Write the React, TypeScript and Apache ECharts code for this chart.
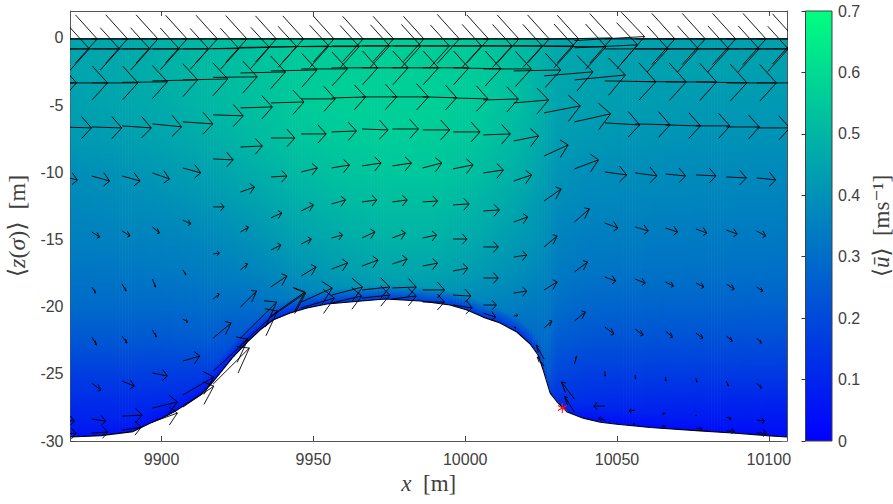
import React, { useEffect, useRef } from "react";
import * as echarts from "echarts";

const X_TICKS = [9900, 9950, 10000, 10050, 10100];
const Y_TICKS = [-30, -25, -20, -15, -10, -5, 0];

const BED_X = [9870, 9880, 9890.6, 9896, 9900, 9904, 9912.7, 9916, 9919.3, 9923.5, 9928.2, 9932.4, 9936.7, 9942.3, 9947.9, 9954.5, 9962, 9973.6, 9985.2, 9995, 10000.6, 10005.9, 10011.5, 10017, 10021.4, 10024, 10025.7, 10027, 10028, 10030.3, 10033.6, 10038.9, 10044.5, 10050, 10061, 10077.4, 10088, 10099.5, 10106];
const BED_Z = [-29.7, -29.6, -29.3, -28.7, -28.3, -27.85, -26.58, -25.84, -24.94, -23.75, -22.64, -21.74, -21, -20.48, -20.1, -19.8, -19.66, -19.43, -19.58, -19.88, -20.25, -20.78, -21.22, -21.89, -22.78, -23.6, -24.72, -25.69, -26.44, -27.1, -27.85, -28.3, -28.6, -28.75, -29, -29.25, -29.4, -29.6, -29.7];

const STAR = [[10032, -27.55]];

const FIELD_Z = [0, -2.5, -5, -7.5, -10, -12.5, -15, -17.5, -20, -22.5, -25, -27.5, -30];
const FIELD_X = [9870, 9885, 9900, 9915, 9930, 9945, 9960, 9975, 9990, 10005, 10018, 10024, 10027, 10030, 10040, 10055, 10080, 10106];
const U_9870 = [0.45, 0.45, 0.44, 0.42, 0.39, 0.37, 0.35, 0.32, 0.29, 0.24, 0.17, 0.11, 0.06];
const U_9885 = [0.46, 0.46, 0.45, 0.43, 0.40, 0.38, 0.355, 0.325, 0.29, 0.24, 0.17, 0.11, 0.06];
const U_9900 = [0.48, 0.48, 0.47, 0.45, 0.42, 0.39, 0.36, 0.33, 0.29, 0.24, 0.17, 0.10, 0.05];
const U_9915 = [0.51, 0.51, 0.50, 0.475, 0.44, 0.41, 0.37, 0.34, 0.30, 0.25, 0.16, 0.10, 0.05];
const U_9930 = [0.53, 0.53, 0.525, 0.51, 0.475, 0.44, 0.40, 0.36, 0.30, 0.22, 0.15, 0.10, 0.05];
const U_9945 = [0.55, 0.555, 0.555, 0.54, 0.51, 0.475, 0.44, 0.395, 0.33, 0.22, 0.15, 0.10, 0.05];
const U_9960 = [0.56, 0.565, 0.57, 0.555, 0.535, 0.505, 0.47, 0.43, 0.36, 0.22, 0.15, 0.10, 0.05];
const U_9975 = [0.565, 0.57, 0.57, 0.565, 0.545, 0.52, 0.49, 0.45, 0.38, 0.22, 0.15, 0.10, 0.05];
const U_9990 = [0.56, 0.565, 0.57, 0.56, 0.545, 0.52, 0.49, 0.45, 0.38, 0.22, 0.15, 0.10, 0.05];
const U_10005 = [0.545, 0.555, 0.555, 0.54, 0.52, 0.49, 0.46, 0.42, 0.36, 0.30, 0.15, 0.10, 0.05];
const U_10018 = [0.51, 0.52, 0.52, 0.50, 0.48, 0.45, 0.42, 0.39, 0.34, 0.28, 0.20, 0.10, 0.05];
const U_10024 = [0.49, 0.49, 0.485, 0.47, 0.45, 0.42, 0.40, 0.37, 0.33, 0.29, 0.22, 0.12, 0.05];
const U_10027 = [0.475, 0.475, 0.47, 0.455, 0.43, 0.41, 0.385, 0.36, 0.33, 0.30, 0.25, 0.13, 0.06];
const U_10030 = [0.46, 0.46, 0.45, 0.43, 0.41, 0.385, 0.36, 0.335, 0.30, 0.25, 0.19, 0.12, 0.06];
const U_10040 = [0.45, 0.45, 0.44, 0.42, 0.39, 0.37, 0.345, 0.32, 0.28, 0.23, 0.17, 0.11, 0.05];
const U_10055 = [0.44, 0.44, 0.43, 0.41, 0.385, 0.365, 0.34, 0.315, 0.275, 0.225, 0.165, 0.10, 0.04];
const U_10080 = [0.44, 0.44, 0.42, 0.40, 0.38, 0.36, 0.335, 0.31, 0.27, 0.22, 0.16, 0.09, 0.04];
const U_10106 = [0.44, 0.44, 0.42, 0.40, 0.375, 0.355, 0.33, 0.305, 0.265, 0.215, 0.155, 0.085, 0.03];
const FIELD = [U_9870, U_9885, U_9900, U_9915, U_9930, U_9945, U_9960, U_9975, U_9990, U_10005, U_10018, U_10024, U_10027, U_10030, U_10040, U_10055, U_10080, U_10106];
const BED_U = [0.05, 0.05, 0.04, 0.05, 0.08, 0.12, 0.14, 0.15, 0.15, 0.14, 0.13, 0.14, 0.18, 0.12, 0.04, 0.03, 0.03, 0.03];

const QUIVER_X = [9857, 9867, 9877, 9887, 9897, 9907, 9917, 9926, 9936, 9946, 9956, 9966, 9976, 9986, 9996, 10006, 10016, 10026, 10036, 10046, 10056, 10066, 10076, 10086, 10096];

const R0_Z = [-0.08, -0.08, -0.08, -0.08, -0.08, -0.08, -0.08, -0.08, -0.08, -0.08, -0.08, -0.08, -0.08, -0.08, -0.08, -0.08, -0.08, -0.1, -0.2, -0.08, -0.08, -0.08, -0.08, -0.08, -0.08];
const R0_U = [21.8, 21.8, 21.8, 21.4, 21.4, 21.1, 20.8, 20.8, 20.8, 20.4, 20.4, 20.4, 22.1, 21.7, 21.7, 21.7, 21.4, 22.4, 23.1, 23.1, 23.1, 23.1, 23.1, 22.7, 22.7];
const R0_V = [0, 0, 0, 0, 0, 0, 0, 0, 0, 0, 0, 0, 0, 0, 0, 0, 0, 0.1, 0.3, 0, 0, 0, 0, 0, 0];

const R1_Z = [-0.82, -0.82, -0.82, -0.82, -0.82, -0.82, -0.8, -0.71, -0.68, -0.65, -0.6, -0.6, -0.6, -0.6, -0.6, -0.6, -0.6, -0.63, -0.74, -0.82, -0.82, -0.82, -0.82, -0.82, -0.82];
const R1_U = [19.2, 19.1, 19.1, 18.8, 18.5, 18.5, 18.5, 18.5, 19.1, 19.1, 19.1, 19.4, 18.8, 19.4, 19.4, 19.4, 19.8, 20.4, 20.8, 20.8, 20.8, 20.8, 20.8, 20.4, 20.4];
const R1_V = [0, 0, 0, 0, 0, 0.02, 0.09, 0.06, 0.07, 0, 0, 0, 0, 0, 0, 0, 0, -0.04, 0.22, 0, 0, 0, 0, 0, 0];

const R2_Z = [-3.35, -3.35, -3.35, -3.31, -3.2, -3.13, -2.94, -2.61, -2.46, -2.31, -2.23, -2.23, -2.23, -2.23, -2.23, -2.31, -2.46, -2.83, -3.13, -3.2, -3.24, -3.28, -3.28, -3.35, -3.35];
const R2_U = [15, 15.2, 15.2, 14.9, 14.9, 14.8, 14.5, 14.8, 15.2, 15.2, 15.2, 15.2, 15.2, 15.2, 15.8, 15.8, 15.5, 16.1, 16.8, 16.8, 16.8, 16.8, 16.8, 16.5, 16.5];
const R2_V = [0, 0, 0, 0.04, 0.07, 0.07, 0.04, 0.07, 0.07, 0, 0, 0, 0, 0, -0.07, 0, 0.07, 0.3, 0.37, -0.07, -0.04, 0, -0.07, 0, 0];

const R3_Z = [-6.63, -6.63, -6.63, -6.55, -6.4, -6.25, -5.73, -5.21, -4.84, -4.54, -4.47, -4.39, -4.39, -4.39, -4.47, -4.62, -4.84, -5.58, -6.25, -6.33, -6.4, -6.48, -6.55, -6.63, -6.7];
const R3_U = [10, 9.9, 9.9, 9.6, 9.6, 9.9, 9.9, 10.5, 10.9, 11.2, 11.2, 11.5, 11.9, 11.2, 11.5, 11.5, 11.5, 11.9, 11.9, 11.5, 11.5, 11.5, 11.2, 10.9, 10.9];
const R3_V = [0, -0.07, -0.07, -0.15, -0.22, -0.15, -0.07, 0.07, 0.07, 0, 0.07, 0, 0, -0.07, -0.07, 0.07, 0.22, 0.52, 0.6, -0.15, -0.07, -0.07, 0, 0, 0];

const R4_Z = [-10.28, -10.28, -10.28, -10.05, -9.68, -9.01, -8.12, -7.45, -7.15, -7, -6.78, -6.78, -6.85, -7, -7.22, -7.67, -8.79, -9.75, -9.98, -10.05, -10.13, -10.2, -10.35, -10.42];
const R4_U = [5.3, 5.9, 5.9, 5.6, 5.9, 6.6, 7.2, 7.9, 8.2, 8.2, 8.6, 8.6, 8.9, 8.9, 8.9, 8.2, 7.9, 7.9, 7.2, 7.2, 6.6, 6.6, 6.6, 6.3];
const R4_V = [-0.3, -0.37, -0.37, -0.45, -0.37, -0.07, 0.07, 0, 0, 0.07, -0.07, 0, 0, 0, 0.07, 0.37, 0.82, 0.67, -0.22, -0.22, -0.15, -0.07, -0.07, -0.15];

const R5_Z = [-14.37, -14.45, -14.37, -14.07, -13.55, -12.58, -11.47, -10.35, -9.98, -9.68, -9.53, -9.53, -9.68, -9.75, -10.05, -10.65, -12.14, -13.7, -13.78, -14.07, -14.15, -14.22, -14.3, -14.37];
const R5_U = [2.6, 2.6, 2.6, 2.3, 2.6, 3.6, 4.6, 5.3, 5.3, 5.9, 6.3, 6.3, 6.3, 6.6, 6.6, 5.9, 5.6, 4.9, 4.3, 4.3, 4, 3.6, 3.6, 3];
const R5_V = [-0.37, -0.37, -0.37, -0.45, -0.3, 0, 0.37, 0.07, 0.3, 0.22, 0.22, 0.22, 0.37, 0.3, 0.22, 0.45, 0.89, 0.97, -0.37, -0.3, -0.3, -0.3, -0.3, -0.37];

const R6_Z = [-18.39, -18.54, -18.32, -17.95, -17.27, -16.08, -14.45, -13.4, -12.88, -12.36, -12.21, -12.21, -12.21, -12.43, -12.88, -13.7, -15.56, -17.42, -17.8, -17.95, -18.17, -18.24, -18.32, -18.54];
const R6_U = [1, 1.3, 1.3, 1, 1, 2, 2.6, 3.6, 4, 4.6, 4.9, 4.9, 4.9, 5.3, 5.3, 4.6, 4.3, 4.3, 3.6, 3.3, 2.6, 2.6, 2.6, 2];
const R6_V = [-0.45, -0.45, -0.52, -0.6, -0.37, 0.07, 0.37, 0.37, 0.45, 0.3, 0.15, 0.15, 0.07, 0.07, 0.07, 0.37, 0.82, 0.74, -0.3, -0.3, -0.3, -0.3, -0.37, -0.3];

const R7_Z = [-22.34, -22.26, -22.19, -21.74, -20.92, -19.43, -17.27, -15.79, -15.34, -14.89, -14.89, -14.89, -14.89, -14.97, -15.56, -16.31, -18.76, -21.07, -21.52, -21.67, -21.82, -21.97, -22.19, -22.34];
const R7_U = [1.3, 1.6, 1.6, 1.3, 1.6, 2, 2.3, 3.3, 3.3, 3.6, 4.3, 4.3, 4.6, 4.6, 4.9, 4.3, 4.3, 3.6, 3, 2.6, 2.3, 2.3, 2, 1.6];
const R7_V = [-0.6, -0.6, -0.52, -0.52, -0.22, 0.37, 0.45, 0.37, 0.37, 0.22, 0.45, 0.37, 0.22, 0, 0, 0.15, 0.6, 0.67, -0.52, -0.45, -0.45, -0.37, -0.37, -0.37];

const R8_Z = [-25.69, -25.69, -25.54, -24.94, -24.05, -22.34, -20.03, -18.54, -17.72, -17.2, -16.98, -16.83, -16.98, -17.35, -17.87, -18.99, -21.59, -24.27, -24.8, -25.09, -25.24, -25.32, -25.54, -25.69];
const R8_U = [2.3, 3, 4, 4.9, 5.6, 5.9, 5.3, 5.3, 4.9, 5.3, 5.3, 4.9, 4.9, 4.9, 4.9, 4.3, 2.6, 0.7, 0.1, 0.1, 0.1, 0.3, 0.7, 1.6];
const R8_V = [-0.45, -0.52, -0.37, -0.22, 0.37, 1.12, 1.19, 0.82, 0.67, 0.45, 0.45, 0.37, 0.22, 0.22, 0, 0.15, 0.52, 0.6, -0.37, -0.3, -0.3, -0.3, -0.37, -0.37];

const R9_Z = [-28.44, -28.37, -28.15, -27.55, -26.58, -24.8, -22.34, -20.7, -19.66, -19.14, -18.76, -18.61, -18.76, -19.14, -19.88, -20.7, -23.9, -26.88, -27.4, -27.7, -27.92, -28.07, -28.22, -28.44];
const R9_U = [4.3, 4.6, 6.6, 8.2, 10.2, 11.5, 11.9, 11.2, 10.2, 10.2, 9.2, 7.9, 7.2, 5.9, 4.3, 1.3, -2.6, -4.3, -3.6, -2, -1, 0.1, 1.6, 2.6];
const R9_V = [-0.07, -0.15, 0.07, 0.45, 1.34, 2.38, 2.68, 1.79, 1.04, 0.6, 0.22, 0.07, 0, -0.07, 0, 0.07, 1.04, 1.27, 0, -0.07, -0.07, -0.07, -0.15, -0.07];

const R10_Z = [-29.49, -29.41, -29.19, -28.59, -27.48, -25.76, -22.86, -20.77, -20.1, -19.73, -19.36, -19.43, -19.66, -19.88, -20.48, -21.52, -24.42, -27.85, -28.44, -28.74, -28.89, -29.04, -29.26, -29.41];
const R10_U = [4.9, 5.3, 6.3, 8.2, 10.2, 11.9, 12.2, 11.5, 10.9, 9.9, 9.2, 7.9, 7.2, 6.3, 4, 0.7, -2.3, -3.3, -2, -0.7, -1, 2, 2.6, 3.3];
const R10_V = [0.07, 0.07, 0.22, 0.67, 1.56, 2.68, 2.53, 1.79, 0.74, 0.52, 0.22, 0.22, 0, -0.22, -0.3, -0.07, 0.67, 1.19, 0.15, 0, 0, -0.07, 0, 0];

const ROWS = [
  [R0_Z, R0_U, R0_V], [R1_Z, R1_U, R1_V], [R2_Z, R2_U, R2_V], [R3_Z, R3_U, R3_V],
  [R4_Z, R4_U, R4_V], [R5_Z, R5_U, R5_V], [R6_Z, R6_U, R6_V], [R7_Z, R7_U, R7_V],
  [R8_Z, R8_U, R8_V], [R9_Z, R9_U, R9_V], [R10_Z, R10_U, R10_V],
];

const UMAX = 0.7;
const BAND = 1.1;
const ALPHA = 0.33;
const BETA = 0.25;
const TEXT = "#404040";
const SANS = "'Liberation Sans', Arial, sans-serif";
const SERIF = "'Liberation Serif', 'DejaVu Serif', serif";

function winter(v: number) {
  const t = Math.max(0, Math.min(1, v / UMAX));
  return `rgb(0,${Math.round(255 * t)},${Math.round(255 - 127 * t)})`;
}

function bedAt(x: number) {
  for (let i = 0; i < BED_X.length - 1; i++) {
    if (x <= BED_X[i + 1]) {
      const t = (x - BED_X[i]) / (BED_X[i + 1] - BED_X[i]);
      return BED_Z[i] + t * (BED_Z[i + 1] - BED_Z[i]);
    }
  }
  return BED_Z[BED_Z.length - 1];
}

function renderField(params: any, api: any) {
  const i = api.value(2);
  const x0 = FIELD_X[i];
  const x1 = FIELD_X[i + 1];
  const top = api.coord([x0, 0])[1];
  const bottom = api.coord([x0, -30])[1];
  const n = Math.max(1, Math.round(x1 - x0));
  const children: any[] = [];
  for (let s = 0; s < n; s++) {
    const a = x0 + ((x1 - x0) * s) / n;
    const b = x0 + ((x1 - x0) * (s + 1)) / n;
    const t = (s + 0.5) / n;
    const mid = (a + b) / 2;
    const bed = bedAt(mid);
    const limit = bed + BAND;
    const col = FIELD_Z.map((_, k) => FIELD[i][k] + t * (FIELD[i + 1][k] - FIELD[i][k]));
    const stops: any[] = [];
    for (let k = 0; k < FIELD_Z.length; k++) {
      if (FIELD_Z[k] > limit) stops.push({ offset: -FIELD_Z[k] / 30, color: winter(col[k]) });
    }
    const k2 = FIELD_Z.findIndex((z) => z <= limit);
    const k1 = Math.max(0, k2 - 1);
    const w = FIELD_Z[k2] === FIELD_Z[k1] ? 0 : (limit - FIELD_Z[k1]) / (FIELD_Z[k2] - FIELD_Z[k1]);
    stops.push({ offset: -limit / 30, color: winter(col[k1] + w * (col[k2] - col[k1])) });
    const bedU = BED_U[i] + t * (BED_U[i + 1] - BED_U[i]);
    stops.push({ offset: Math.min(1, -bed / 30), color: winter(bedU) });
    const pa = api.coord([a, 0]);
    const pb = api.coord([b, 0]);
    const qa = api.coord([a, bedAt(a)]);
    const qb = api.coord([b, bedAt(b)]);
    const extra = s === n - 1 && i === FIELD_X.length - 2 ? 0 : 0.7;
    children.push({
      type: "polygon",
      silent: true,
      shape: {
        points: [
          [pa[0], pa[1]],
          [pb[0] + extra, pb[1]],
          [qb[0] + extra, qb[1]],
          [qa[0], qa[1]],
        ],
      },
      style: { fill: new echarts.graphic.LinearGradient(0, top, 0, bottom, stops, true), stroke: "none" },
    });
  }
  return { type: "group", children };
}

function renderArrow(params: any, api: any) {
  const x = api.value(0);
  const z = api.value(1);
  const u = api.value(2);
  const v = api.value(3);
  const tx = x + u;
  const tz = z + v;
  const tail = api.coord([x, z]);
  const tip = api.coord([tx, tz]);
  const b1 = api.coord([tx - ALPHA * (u + BETA * v), tz - ALPHA * (v - BETA * u)]);
  const b2 = api.coord([tx - ALPHA * (u - BETA * v), tz - ALPHA * (v + BETA * u)]);
  const style = { stroke: "#000", lineWidth: 0.9, fill: "none" };
  return {
    type: "group",
    children: [
      { type: "polyline", silent: true, shape: { points: [tail, tip] }, style },
      { type: "polyline", silent: true, shape: { points: [b1, tip, b2] }, style },
    ],
  };
}

function renderStar(params: any, api: any) {
  const c = api.coord([api.value(0), api.value(1)]);
  const r = 5;
  const style = { stroke: "#ff1020", lineWidth: 1.1, fill: "none" };
  const spoke = (dx: number, dy: number) => ({
    type: "line",
    silent: true,
    shape: { x1: c[0] - dx, y1: c[1] - dy, x2: c[0] + dx, y2: c[1] + dy },
    style,
  });
  return {
    type: "group",
    children: [spoke(0, r), spoke(r * 0.87, r * 0.5), spoke(r * 0.87, -r * 0.5)],
  };
}

function renderColorbar(params: any, api: any) {
  const a = api.coord([0, 0]);
  const b = api.coord([1, UMAX]);
  return {
    type: "rect",
    silent: true,
    shape: { x: a[0], y: b[1], width: b[0] - a[0], height: a[1] - b[1] },
    style: {
      fill: new echarts.graphic.LinearGradient(0, 1, 0, 0, [
        { offset: 0, color: winter(0) },
        { offset: 1, color: winter(UMAX) },
      ]),
      stroke: TEXT,
      lineWidth: 1,
    },
  };
}

function plainAxis(extra: any) {
  return {
    type: "value",
    gridIndex: 0,
    axisLine: { show: true, onZero: false, lineStyle: { color: "#555", width: 1 } },
    axisTick: { show: true, inside: true, length: 5, lineStyle: { color: "#444", width: 1 } },
    splitLine: { show: false },
    ...extra,
  };
}

const richAt = (size: number) => ({
  n: { fontFamily: SERIF, fontSize: size, color: TEXT },
  i: { fontFamily: SERIF, fontSize: size, fontStyle: "italic", color: TEXT },
});

export default function App() {
  const ref = useRef<HTMLDivElement>(null);
  useEffect(() => {
    const chart = echarts.init(ref.current!, undefined, { renderer: "svg" });
    const arrows: number[][] = [];
    for (const [zs, us, vs] of ROWS) {
      const xs = QUIVER_X.slice(QUIVER_X.length - zs.length);
      zs.forEach((z, i) => arrows.push([xs[i], z, us[i], vs[i]]));
    }
    chart.setOption({
      animation: false,
      backgroundColor: "#fff",
      textStyle: { fontFamily: SANS },
      grid: [
        { left: 70.5, top: 11, width: 716.5, height: 430, outerBoundsMode: "none", containLabel: false },
        { left: 805.5, top: 11, width: 26.5, height: 430, outerBoundsMode: "none", containLabel: false },
      ],
      xAxis: [
        plainAxis({
          min: 9870,
          max: 10106,
          position: "bottom",
          axisTick: { show: true, inside: true, length: 5, customValues: X_TICKS, lineStyle: { color: "#444", width: 1 } },
          axisLabel: { show: true, customValues: X_TICKS, margin: 10, fontSize: 16, color: TEXT, fontFamily: SANS, formatter: (v: number) => String(v) },
          name: "{i|x}  {n|[m]}",
          nameLocation: "middle",
          nameGap: 30,
          nameTextStyle: { rich: richAt(23), fontFamily: SERIF, fontSize: 23, color: TEXT },
        }),
        plainAxis({
          min: 9870,
          max: 10106,
          position: "top",
          axisTick: { show: true, inside: true, length: 5, customValues: X_TICKS, lineStyle: { color: "#444", width: 1 } },
          axisLabel: { show: false },
        }),
        { type: "value", gridIndex: 1, min: 0, max: 1, show: false },
      ],
      yAxis: [
        plainAxis({
          min: -30,
          max: 2,
          position: "left",
          axisTick: { show: true, inside: true, length: 5, customValues: Y_TICKS, lineStyle: { color: "#444", width: 1 } },
          axisLabel: { show: true, customValues: Y_TICKS, margin: 7, fontSize: 16, color: TEXT, fontFamily: SANS, formatter: (v: number) => String(v) },
          name: "{n|⟨}{i|z}{n|(}{i|σ}{n|)⟩  [m]}",
          nameLocation: "middle",
          nameRotate: 90,
          nameGap: 37,
          nameTextStyle: { rich: richAt(24), fontFamily: SERIF, fontSize: 24, color: TEXT },
        }),
        plainAxis({
          min: -30,
          max: 2,
          position: "right",
          axisTick: { show: true, inside: true, length: 5, customValues: Y_TICKS, lineStyle: { color: "#777", width: 1 } },
          axisLabel: { show: false },
        }),
        {
          type: "value",
          gridIndex: 1,
          position: "right",
          min: 0,
          max: UMAX,
          interval: 0.1,
          axisLine: { show: false },
          splitLine: { show: false },
          axisTick: { show: true, inside: true, length: 4, lineStyle: { color: "#333", width: 1 } },
          axisLabel: { show: true, margin: 6, fontSize: 16, color: TEXT, fontFamily: SANS },
          name: "{n|⟨}{i|ū}{n|⟩  [ms⁻¹]}",
          nameLocation: "middle",
          nameRotate: 90,
          nameGap: 38,
          nameTextStyle: { rich: richAt(23), fontFamily: SERIF, fontSize: 23, color: TEXT },
          z: 5,
        },
      ],
      series: [
        {
          type: "custom",
          name: "speed",
          xAxisIndex: 0,
          yAxisIndex: 0,
          renderItem: renderField,
          clip: true,
          z: 1,
          silent: true,
          encode: { x: 0, y: 1 },
          data: FIELD_X.slice(0, -1).map((x, i) => [x, 0, i]),
        },
        {
          type: "line",
          name: "bed",
          xAxisIndex: 0,
          yAxisIndex: 0,
          data: BED_X.map((x, i) => [x, BED_Z[i]]),
          symbol: "none",
          lineStyle: { color: "#000", width: 1.1 },
          z: 2,
          silent: true,
        },
        {
          type: "custom",
          name: "velocity",
          xAxisIndex: 0,
          yAxisIndex: 0,
          renderItem: renderArrow,
          clip: true,
          z: 3,
          silent: true,
          encode: { x: 0, y: 1 },
          data: arrows,
        },
        {
          type: "custom",
          name: "point",
          xAxisIndex: 0,
          yAxisIndex: 0,
          renderItem: renderStar,
          encode: { x: 0, y: 1 },
          data: STAR,
          z: 4,
          silent: true,
        },
        {
          type: "custom",
          name: "colorbar",
          xAxisIndex: 2,
          yAxisIndex: 2,
          renderItem: renderColorbar,
          silent: true,
          z: 1,
          data: [[0, 0]],
        },
      ],
    });
    return () => chart.dispose();
  }, []);
  return <div ref={ref} style={{ position: "absolute", left: 0, top: 0, width: 893, height: 504 }} />;
}
